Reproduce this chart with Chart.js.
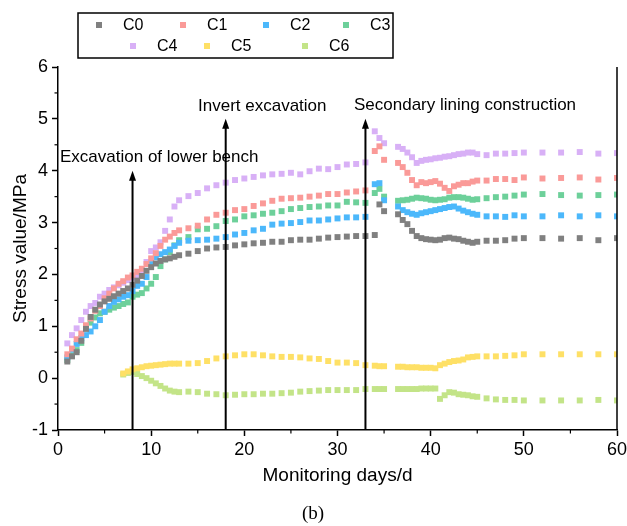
<!DOCTYPE html>
<html>
<head>
<meta charset="utf-8">
<script src="https://cdn.jsdelivr.net/npm/chart.js@4.4.1/dist/chart.umd.min.js"></script>
<style>
  html, body { margin: 0; padding: 0; background: #fff; }
</style>
</head>
<body>
<canvas id="stressChart" width="627" height="526"></canvas>
<script>
// Monitoring days for C0-C4 and for C5/C6
const daysMain = [1, 1.5, 2, 2.5, 3, 3.5, 4, 4.5, 5, 5.5, 6, 6.5, 7, 7.5, 8, 8.5, 9, 9.5, 10, 10.5, 11, 11.5, 12, 12.5, 13,
  14, 15, 16, 17, 18, 19, 20, 21, 22, 23, 24, 25, 26, 27, 28, 29, 30, 31, 32, 33,
  34, 34.5, 35, 36.5, 37, 37.5, 38, 38.5, 39, 39.5, 40, 40.5, 41, 41.5, 42, 42.5, 43, 43.5, 44, 44.5, 45,
  46, 47, 48, 49, 50, 52, 54, 56, 58, 60];
const daysLower = [7, 7.5, 8, 8.5, 9, 9.5, 10, 10.5, 11, 11.5, 12, 12.5, 13,
  14, 15, 16, 17, 18, 19, 20, 21, 22, 23, 24, 25, 26, 27, 28, 29, 30, 31, 32, 33,
  34, 34.5, 35, 36.5, 37, 37.5, 38, 38.5, 39, 39.5, 40, 40.5, 41, 41.5, 42, 42.5, 43, 43.5, 44, 44.5, 45,
  46, 47, 48, 49, 50, 52, 54, 56, 58, 60];

// stress values (MPa)
const c0 = [0.32, 0.42, 0.50, 0.72, 0.95, 1.18, 1.32, 1.42, 1.48, 1.53, 1.58, 1.63, 1.68, 1.73, 1.80, 1.88, 1.97, 2.07, 2.14, 2.21, 2.26, 2.29, 2.31, 2.34, 2.37,
  2.40, 2.45, 2.50, 2.52, 2.53, 2.56, 2.58, 2.60, 2.61, 2.63, 2.63, 2.66, 2.67, 2.67, 2.69, 2.71, 2.72, 2.73, 2.74, 2.74,
  2.76, 3.35, 3.22, 3.16, 3.05, 2.97, 2.84, 2.74, 2.70, 2.68, 2.67, 2.66, 2.67, 2.70, 2.71, 2.69, 2.68, 2.65, 2.63, 2.61, 2.63,
  2.65, 2.65, 2.66, 2.69, 2.70, 2.70, 2.69, 2.70, 2.66, 2.70];
const c1 = [0.46, 0.57, 0.75, 0.86, 1.02, 1.15, 1.30, 1.39, 1.54, 1.63, 1.73, 1.82, 1.87, 1.94, 1.98, 2.05, 2.11, 2.20, 2.31, 2.41, 2.55, 2.67, 2.73, 2.80, 2.85,
  2.89, 2.94, 3.06, 3.15, 3.19, 3.24, 3.26, 3.32, 3.37, 3.42, 3.46, 3.47, 3.48, 3.50, 3.52, 3.55, 3.55, 3.58, 3.60, 3.62,
  4.38, 4.47, 4.21, 4.15, 4.07, 3.96, 3.82, 3.72, 3.78, 3.76, 3.78, 3.80, 3.75, 3.67, 3.61, 3.70, 3.73, 3.76, 3.76, 3.79, 3.81,
  3.81, 3.84, 3.84, 3.82, 3.87, 3.85, 3.86, 3.87, 3.83, 3.86];
const c2 = [0.40, 0.55, 0.66, 0.77, 0.83, 0.90, 1.00, 1.12, 1.28, 1.39, 1.47, 1.52, 1.57, 1.60, 1.68, 1.78, 1.82, 1.95, 2.20, 2.33, 2.39, 2.43, 2.48, 2.55, 2.61,
  2.65, 2.66, 2.67, 2.69, 2.72, 2.77, 2.80, 2.85, 2.88, 2.96, 2.98, 2.99, 3.01, 3.04, 3.04, 3.06, 3.08, 3.10, 3.10, 3.11,
  3.74, 3.76, 3.43, 3.31, 3.24, 3.20, 3.17, 3.15, 3.18, 3.20, 3.22, 3.24, 3.26, 3.28, 3.30, 3.31, 3.27, 3.23, 3.20, 3.17, 3.15,
  3.12, 3.12, 3.11, 3.14, 3.12, 3.12, 3.14, 3.12, 3.14, 3.12];
const c3 = [0.35, 0.44, 0.54, 0.68, 0.96, 1.07, 1.17, 1.25, 1.28, 1.32, 1.36, 1.39, 1.43, 1.46, 1.57, 1.61, 1.64, 1.73, 1.82, 1.95, 2.16, 2.29, 2.43, 2.56, 2.66,
  2.72, 2.87, 2.88, 2.93, 3.03, 3.06, 3.12, 3.14, 3.17, 3.19, 3.22, 3.26, 3.28, 3.30, 3.31, 3.33, 3.33, 3.40, 3.39, 3.38,
  3.57, 3.65, 3.50, 3.42, 3.43, 3.44, 3.46, 3.48, 3.47, 3.46, 3.44, 3.43, 3.44, 3.45, 3.48, 3.49, 3.49, 3.48, 3.46, 3.44, 3.45,
  3.47, 3.49, 3.50, 3.52, 3.54, 3.55, 3.53, 3.52, 3.53, 3.54];
const c4 = [0.67, 0.83, 0.96, 1.12, 1.28, 1.39, 1.45, 1.57, 1.63, 1.70, 1.75, 1.79, 1.84, 1.89, 1.94, 1.98, 2.03, 2.24, 2.45, 2.52, 2.62, 2.84, 3.06, 3.31, 3.43,
  3.51, 3.57, 3.66, 3.72, 3.77, 3.82, 3.85, 3.88, 3.91, 3.93, 3.94, 3.96, 3.93, 3.99, 4.04, 4.03, 4.07, 4.12, 4.13, 4.16,
  4.76, 4.63, 4.53, 4.46, 4.42, 4.35, 4.26, 4.15, 4.19, 4.21, 4.22, 4.24, 4.25, 4.27, 4.28, 4.30, 4.32, 4.33, 4.35, 4.35, 4.32,
  4.30, 4.33, 4.33, 4.34, 4.35, 4.35, 4.35, 4.36, 4.33, 4.34];
const c5 = [0.09, 0.13, 0.17, 0.19, 0.21, 0.23, 0.24, 0.25, 0.26, 0.27, 0.28, 0.28, 0.28,
  0.28, 0.29, 0.33, 0.38, 0.42, 0.44, 0.46, 0.46, 0.44, 0.42, 0.41, 0.41, 0.40, 0.38, 0.37, 0.33, 0.30, 0.30, 0.29, 0.25,
  0.24, 0.23, 0.23, 0.22, 0.22, 0.21, 0.21, 0.21, 0.20, 0.20, 0.20, 0.19, 0.25, 0.28, 0.31, 0.33, 0.34, 0.36, 0.40, 0.41, 0.42,
  0.42, 0.42, 0.43, 0.44, 0.46, 0.46, 0.46, 0.46, 0.46, 0.46];
const c6 = [0.07, 0.10, 0.12, 0.08, 0.04, 0.00, -0.05, -0.10, -0.15, -0.20, -0.24, -0.26, -0.27,
  -0.26, -0.27, -0.30, -0.31, -0.33, -0.32, -0.31, -0.31, -0.30, -0.30, -0.29, -0.28, -0.26, -0.25, -0.24, -0.23, -0.23, -0.23, -0.23, -0.21,
  -0.21, -0.21, -0.21, -0.21, -0.21, -0.21, -0.21, -0.21, -0.20, -0.20, -0.20, -0.20, -0.40, -0.33, -0.27, -0.28, -0.31, -0.32, -0.33, -0.35, -0.36,
  -0.39, -0.41, -0.42, -0.42, -0.43, -0.43, -0.43, -0.43, -0.42, -0.43];

const seriesNames = ['C0', 'C1', 'C2', 'C3', 'C4', 'C5', 'C6'];
const seriesValues = [c0, c1, c2, c3, c4, c5, c6];
const seriesDays = [daysMain, daysMain, daysMain, daysMain, daysMain, daysLower, daysLower];
const seriesColors = ['#808080', '#fa9a98', '#4cb8fb', '#6dd09a', '#d8b0f6', '#fee066', '#c3e488'];

// construction events: day, arrow top (MPa), text
const eventDays = [8, 18, 33];
const eventTops = [4, 5, 5];
const eventLabels = ['Excavation of lower bench', 'Invert excavation', 'Secondary lining construction'];

const FONT = 'Arial, "Liberation Sans", sans-serif';

const datasets = seriesNames.map((name, i) => ({
  label: name,
  data: seriesDays[i].map((d, j) => ({ x: d, y: seriesValues[i][j] })),
  showLine: false,
  pointStyle: 'rect',
  pointRadius: 4.2,
  pointHoverRadius: 4.2,
  pointBorderWidth: 0,
  backgroundColor: seriesColors[i],
  borderColor: seriesColors[i]
}));

// frame, minor ticks, arrows, notes, legend box and caption
const overlay = {
  id: 'overlay',
  afterDraw(chart) {
    const { ctx, chartArea: a, scales: { x, y } } = chart;
    ctx.save();
    ctx.strokeStyle = '#000';
    ctx.fillStyle = '#000';
    ctx.lineWidth = 1.5;

    // right frame line
    ctx.beginPath();
    ctx.moveTo(a.right, a.top);
    ctx.lineTo(a.right, a.bottom);
    ctx.stroke();

    // minor ticks
    ctx.lineWidth = 1.2;
    for (let v = 5; v < 60; v += 10) {
      const px = x.getPixelForValue(v);
      ctx.beginPath(); ctx.moveTo(px, a.bottom); ctx.lineTo(px, a.bottom + 3.5); ctx.stroke();
    }
    for (let v = -0.5; v < 6; v += 1) {
      const py = y.getPixelForValue(v);
      ctx.beginPath(); ctx.moveTo(a.left, py); ctx.lineTo(a.left - 3.5, py); ctx.stroke();
    }

    // arrows
    ctx.lineWidth = 2;
    eventDays.forEach((d, i) => {
      const px = x.getPixelForValue(d);
      const tip = y.getPixelForValue(eventTops[i]);
      ctx.beginPath();
      ctx.moveTo(px, a.bottom);
      ctx.lineTo(px, tip + 8);
      ctx.stroke();
      ctx.beginPath();
      ctx.moveTo(px, tip);
      ctx.lineTo(px - 3.5, tip + 10);
      ctx.lineTo(px + 3.5, tip + 10);
      ctx.closePath();
      ctx.fill();
    });

    // event notes
    ctx.font = '17px ' + FONT;
    ctx.textBaseline = 'middle';
    ctx.textAlign = 'left';
    ctx.fillText(eventLabels[0], 60, 157);
    ctx.fillText(eventLabels[1], 198, 106);
    ctx.fillText(eventLabels[2], 354, 105);

    // legend
    ctx.lineWidth = 1.5;
    ctx.strokeRect(78, 13, 315, 45);
    const legendPos = [[99, 25], [183, 25], [266, 25], [346, 25], [133, 46], [207, 46], [305, 46]];
    ctx.font = '16px ' + FONT;
    seriesNames.forEach((name, i) => {
      const [lx, ly] = legendPos[i];
      ctx.fillStyle = seriesColors[i];
      ctx.fillRect(lx - 3, ly - 3, 6, 6);
      ctx.fillStyle = '#000';
      ctx.fillText(name, lx + 24, ly + 1);
    });

    // caption
    ctx.font = '19px "Liberation Serif", "Times New Roman", serif';
    ctx.textAlign = 'center';
    ctx.fillText('(b)', 313, 514);
    ctx.restore();
  }
};

new Chart(document.getElementById('stressChart'), {
  type: 'scatter',
  data: { datasets },
  options: {
    responsive: false,
    animation: false,
    layout: { padding: { top: 67, right: 0, left: 0, bottom: 0 } },
    plugins: {
      legend: { display: false },
      tooltip: { enabled: false }
    },
    scales: {
      x: {
        type: 'linear',
        min: 0,
        max: 60,
        afterFit(scale) {
          scale.height = 96;
          scale.paddingLeft = 0;
          scale.paddingRight = 10;
        },
        ticks: { stepSize: 10, color: '#000', padding: 3, maxRotation: 0, font: { family: FONT, size: 18 } },
        grid: { drawOnChartArea: false, drawTicks: true, tickLength: 6, tickColor: '#000', tickWidth: 1.5 },
        border: { display: true, color: '#000', width: 1.5 },
        title: {
          display: true,
          text: 'Monitoring days/d',
          color: '#000',
          font: { family: FONT, size: 19 },
          padding: { top: 0, bottom: 39 }
        }
      },
      y: {
        min: -1,
        max: 6,
        afterFit(scale) { scale.width = 58; },
        ticks: { stepSize: 1, color: '#000', padding: 4, font: { family: FONT, size: 18 } },
        grid: { drawOnChartArea: false, drawTicks: true, tickLength: 6, tickColor: '#000', tickWidth: 1.5 },
        border: { display: true, color: '#000', width: 1.5 },
        title: {
          display: true,
          text: 'Stress value/MPa',
          color: '#000',
          font: { family: FONT, size: 19 },
          padding: { top: 9, bottom: 0 }
        }
      }
    }
  },
  plugins: [overlay]
});
</script>
</body>
</html>
